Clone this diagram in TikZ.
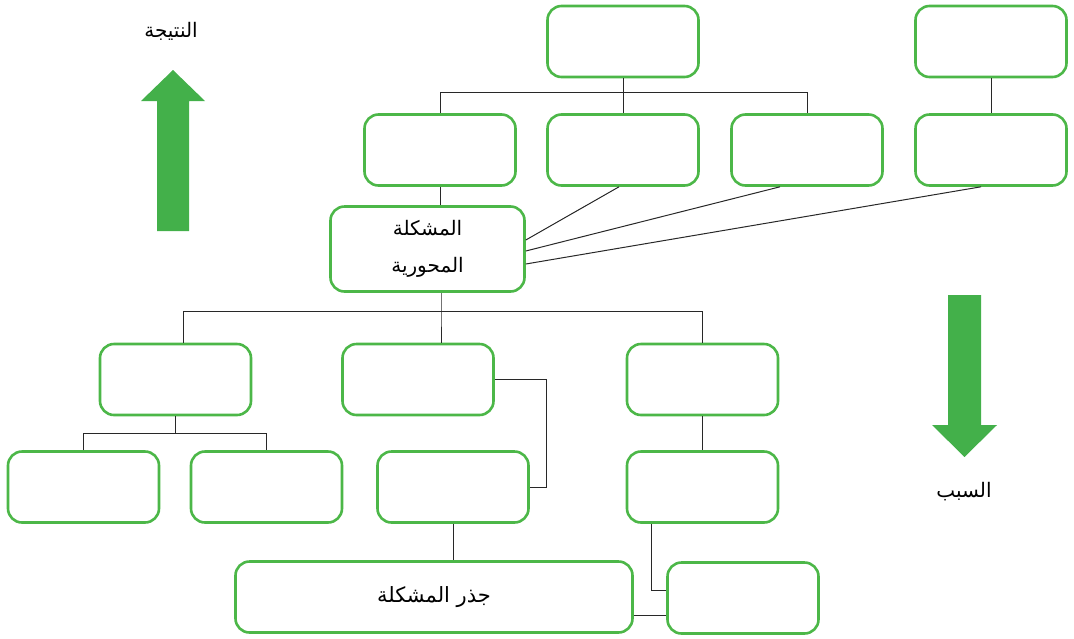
\documentclass[tikz,border=0pt]{standalone}
\usepackage{fontspec}
\newfontfamily\arabicfont[Script=Arabic]{DejaVu Sans}
\TeXXeTstate=1
\definecolor{boxgreen}{RGB}{76,183,72}
\definecolor{arrowgreen}{RGB}{67,176,74}
\definecolor{linegray}{RGB}{40,40,40}
\tikzset{
  gbox/.style={draw=boxgreen, line width=2.6pt, rounded corners=14pt, minimum width=151pt, minimum height=71pt, inner sep=0pt, fill=white},
  conn/.style={draw=linegray, line width=1pt},
  bigarrow/.style={fill=arrowgreen, draw=none},
  lbl/.style={font=\arabicfont\fontsize{20}{24}\selectfont, inner sep=0pt}
}
\begin{document}
\begin{tikzpicture}[x=1pt,y=-1pt]
\useasboundingbox (0,0) rectangle (1074,638);
% boxes
\node[gbox] (T1) at (623,41.5) {};
\node[gbox] (T2) at (991,41.5) {};
\node[gbox] (A) at (440,150) {};
\node[gbox] (B) at (623,150) {};
\node[gbox] (C) at (807,150) {};
\node[gbox] (D) at (991,150) {};
\node[gbox, minimum width=194pt, minimum height=85pt, align=center, font=\arabicfont\fontsize{20}{37}\selectfont] (M) at (427.5,249) {\beginR المشكلة\endR\\\beginR المحورية\endR};
\node[gbox] (E) at (175.5,379.5) {};
\node[gbox] (F) at (418,379.5) {};
\node[gbox] (G) at (702.5,379.5) {};
\node[gbox] (H) at (83.5,487) {};
\node[gbox] (I) at (266.5,487) {};
\node[gbox] (J) at (453,487) {};
\node[gbox] (K) at (702.5,487) {};
\node[gbox, minimum width=397pt, font=\arabicfont\fontsize{21}{24}\selectfont] (R) at (434,597) {\beginR جذر المشكلة\endR};
\node[gbox] (L) at (743,598) {};
% bus coordinates
\coordinate (b1) at (623,92);
\coordinate (b2) at (441,311);
\coordinate (b3) at (175.5,433);
% top connectors
\draw[conn] (T1.south) -- (B.north);
\draw[conn] (A.north) |- (C.north |- b1) -- (C.north);
\draw[conn] (T2.south) -- (D.north);
\draw[conn] (A.south) -- (A.south |- M.north);
\draw[conn] ([xshift=-4pt]B.south) -- ([yshift=9pt]M.east);
\draw[conn] ([xshift=-27pt]C.south) -- ([yshift=-2pt]M.east);
\draw[conn] ([xshift=-10pt]D.south) -- ([yshift=-15pt]M.east);
% lower connectors
\draw[conn] (b2 |- M.south) -- (b2) -- (b2 |- F.north);
\draw[conn] ([xshift=7.5pt]E.north) |- (G.north |- b2) -- (G.north);
\draw[conn] (E.south) -- (b3);
\draw[conn] (H.north) |- (I.north |- b3) -- (I.north);
\draw[conn] (F.east) -| ([xshift=17pt]J.east) -- (J.east);
\draw[conn] (G.south) -- (K.north);
\draw[conn] (J.south) -- (J.south |- R.north);
\draw[conn] ([xshift=-51.5pt]K.south) |- ([yshift=8pt]L.west);
\draw[conn] ([yshift=-18pt]R.east) -- ([yshift=-18pt]R.east -| L.west);
% arrows
\fill[bigarrow] (157,231) -- (157,101) -- (141,101) -- (173,70) -- (205,101) -- (189,101) -- (189,231) -- cycle;
\fill[bigarrow] (948,295) -- (948,425) -- (932,425) -- (964.5,457) -- (997,425) -- (981,425) -- (981,295) -- cycle;
\node[lbl] (res) at (171,31) {\beginR النتيجة\endR};
\node[lbl] (cause) at (964,492) {\beginR السبب\endR};
\end{tikzpicture}
\end{document}
